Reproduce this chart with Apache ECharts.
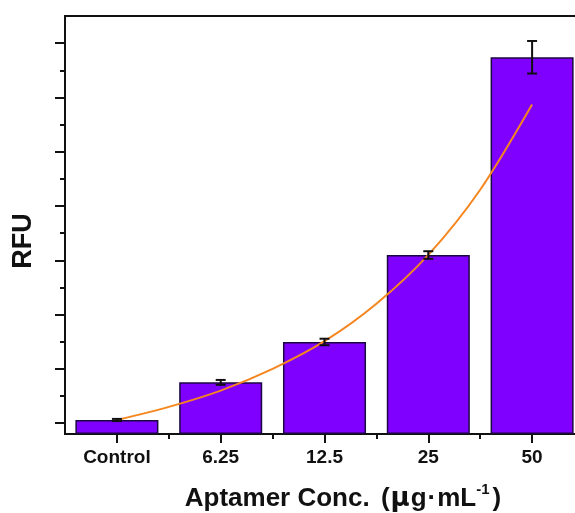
<!DOCTYPE html>
<html>
<head>
<meta charset="utf-8">
<title>RFU vs Aptamer Concentration</title>
<script src="https://cdn.jsdelivr.net/npm/echarts@6/dist/echarts.min.js"></script>
<style>
  html, body { margin: 0; padding: 0; background: #ffffff; overflow: hidden; }
  /* The plot frame runs past the right edge of the window */
  #chart { width: 600px; height: 513px; }
</style>
</head>
<body>
<div id="chart"></div>
<script>
// Concentration groups on the x axis
const categories = ['Control', '6.25', '12.5', '25', '50'];
// Mean fluorescence (arbitrary units) and standard deviation per group
const rfuMeans = [0.258, 0.951, 1.695, 3.297, 6.94];
const rfuErrors = [0.02, 0.045, 0.06, 0.07, 0.30];
// Exponential fit curve, sampled at category centres and midpoints (x in category index units)
const fitX = [0, 0.5, 1, 1.5, 2, 2.5, 3, 3.5, 4];
const fitY = [0.258, 0.50, 0.80, 1.20, 1.71, 2.40, 3.30, 4.50, 6.07];
// Unlabelled y ticks: major and minor positions
const yMajorTicks = [0.2, 1.2, 2.2, 3.2, 4.2, 5.2, 6.2, 7.2];
const yMinorTicks = [0.7, 1.7, 2.7, 3.7, 4.7, 5.7, 6.7];
// Short ticks between category bands
const xBoundaryTicks = [0.5, 1.5, 2.5, 3.5];

const FONT = '"Liberation Sans", Arial, sans-serif';
const INK = '#111111';

const chart = echarts.init(document.getElementById('chart'), null, { renderer: 'canvas' });

const option = {
  backgroundColor: '#ffffff',
  animation: false,
  grid: {
    left: 65, top: 16, width: 519, height: 418,
    show: true, borderColor: INK, borderWidth: 2, backgroundColor: 'transparent'
  },
  xAxis: [
    {
      type: 'category',
      data: categories,
      position: 'bottom',
      axisLine: { show: true, onZero: false, lineStyle: { color: INK, width: 2 } },
      axisTick: { show: true, alignWithLabel: true, length: 9, lineStyle: { color: INK, width: 2 } },
      axisLabel: { color: INK, fontFamily: FONT, fontWeight: 'bold', fontSize: 19, margin: 14 },
      splitLine: { show: false }
    },
    {
      type: 'value',
      min: -0.5, max: 4.5,
      position: 'bottom',
      axisLine: { show: false, onZero: false },
      axisTick: { show: true, customValues: xBoundaryTicks, length: 5, lineStyle: { color: INK, width: 2 } },
      axisLabel: { show: false },
      splitLine: { show: false }
    }
  ],
  yAxis: [
    {
      type: 'value',
      min: 0, max: 7.7,
      position: 'left',
      axisLine: { show: true, onZero: false, lineStyle: { color: INK, width: 2 } },
      axisTick: { show: true, customValues: yMajorTicks, length: 10, lineStyle: { color: INK, width: 2 } },
      axisLabel: { show: false },
      splitLine: { show: false }
    },
    {
      type: 'value',
      min: 0, max: 7.7,
      position: 'left',
      axisLine: { show: false, onZero: false },
      axisTick: { show: true, customValues: yMinorTicks, length: 5, lineStyle: { color: INK, width: 2 } },
      axisLabel: { show: false },
      splitLine: { show: false }
    }
  ],
  series: [
    {
      type: 'bar',
      xAxisIndex: 0, yAxisIndex: 0,
      data: rfuMeans,
      barWidth: '80%',
      itemStyle: { color: '#7f00ff', borderColor: '#1c0840', borderWidth: 1.5 },
      z: 2
    },
    {
      type: 'line',
      xAxisIndex: 1, yAxisIndex: 0,
      data: fitX.map((x, i) => [x, fitY[i]]),
      smooth: 0.3,
      symbol: 'none',
      lineStyle: { color: '#f5861f', width: 2 },
      z: 3
    },
    {
      type: 'custom',
      xAxisIndex: 0, yAxisIndex: 0,
      data: rfuMeans.map((v, i) => [i, v, rfuErrors[i]]),
      encode: { x: 0, y: 1 },
      renderItem: function (params, api) {
        const idx = api.value(0);
        const mean = api.value(1);
        const err = api.value(2);
        const top = api.coord([idx, mean + err]);
        const bottom = api.coord([idx, mean - err]);
        const half = 5;
        const style = { stroke: INK, lineWidth: 2 };
        return {
          type: 'group',
          children: [
            { type: 'line', shape: { x1: top[0], y1: top[1], x2: bottom[0], y2: bottom[1] }, style: style },
            { type: 'line', shape: { x1: top[0] - half, y1: top[1], x2: top[0] + half, y2: top[1] }, style: style },
            { type: 'line', shape: { x1: bottom[0] - half, y1: bottom[1], x2: bottom[0] + half, y2: bottom[1] }, style: style }
          ]
        };
      },
      z: 4
    }
  ],
  graphic: [
    {
      type: 'text',
      x: 24, y: 241,
      rotation: Math.PI / 2,
      style: {
        text: 'RFU',
        font: 'bold 27px ' + FONT,
        fill: INK,
        align: 'center',
        verticalAlign: 'middle'
      }
    },
    {
      type: 'text',
      x: 343, y: 497,
      style: {
        text: '{t|Aptamer Conc. }{p|(}{mu|μ}{t|g}{d|·}{t|mL}{s|-1}{t|)}',
        align: 'center',
        verticalAlign: 'middle',
        rich: {
          t: { font: 'bold 26px ' + FONT, fill: INK, verticalAlign: 'bottom' },
          p: { font: 'bold 26px ' + FONT, fill: INK, verticalAlign: 'bottom', padding: [0, 0, 0, 4] },
          mu: { font: 'bold 26px "DejaVu Sans", sans-serif', fill: INK, verticalAlign: 'bottom', padding: [0, 1, 0, 1] },
          d: { font: 'bold 26px ' + FONT, fill: INK, verticalAlign: 'bottom', padding: [0, 1, 0, 1] },
          s: { font: 'bold 15px ' + FONT, fill: INK, padding: [0, 3, 15, 0], verticalAlign: 'bottom' }
        }
      }
    }
  ]
};

chart.setOption(option);
</script>
</body>
</html>
